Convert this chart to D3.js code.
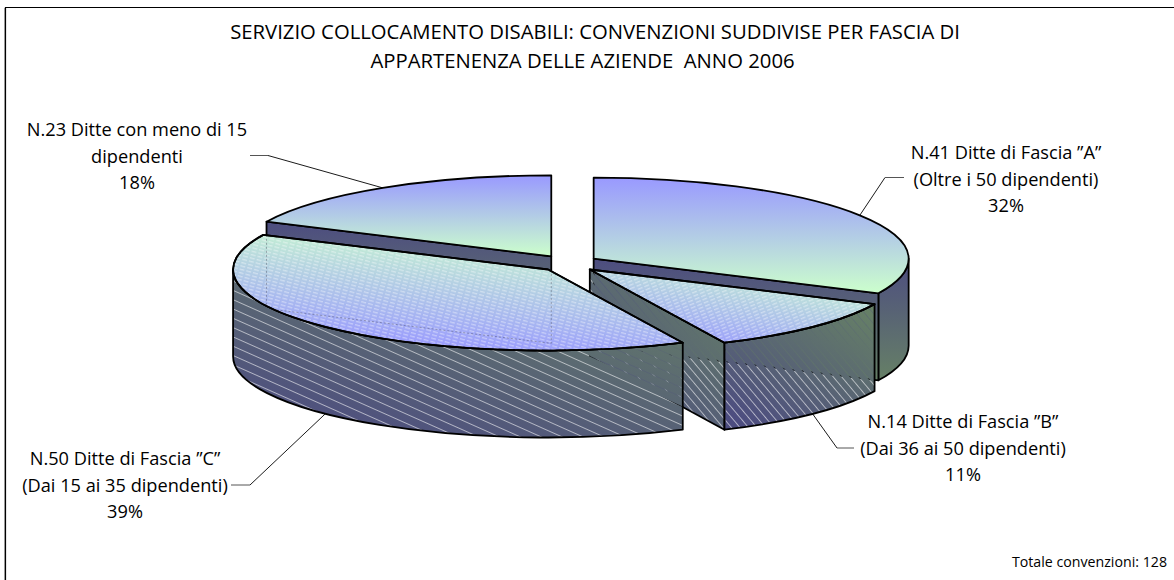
<!DOCTYPE html>
<html><head><meta charset="utf-8">
<style>
html,body{margin:0;padding:0;background:#fff;overflow:hidden}
svg{display:block}
text{font-family:"Open Sans",sans-serif;fill:#000;white-space:pre}
</style>
<script src="https://cdn.jsdelivr.net/npm/d3@7/dist/d3.min.js"></script>
</head><body>
<svg id="c" width="1174" height="580"></svg>
<script>
const categories = ["Fascia A","Fascia B","Fascia C","Meno di 15"];
const values = [41,14,50,23];
const labelLines = [
 ['N.41 Ditte di Fascia ”A”','(Oltre i 50 dipendenti)','32%'],
 ['N.14 Ditte di Fascia ”B”','(Dai 36 ai 50 dipendenti)','11%'],
 ['N.50 Ditte di Fascia ”C”','(Dai 15 ai 35 dipendenti)','39%'],
 ['N.23 Ditte con meno di 15','dipendenti','18%']
];
const titleLines = ['SERVIZIO COLLOCAMENTO DISABILI: CONVENZIONI SUDDIVISE PER FASCIA DI','APPARTENENZA DELLE AZIENDE  ANNO 2006'];
const totalNote = 'Totale convenzioni: 128';

// layout
const cx=570, cy=263.5, rx=315, ry=81, depth=87;
const explodeX=[28,28,31,35], explodeY=[9,8.5,8.5,8.5];
const labelPos=[{x:1006,y:159},{x:963,y:428},{x:125,y:465},{x:137,y:136}];
const leaderElbow=[{x:885,y:177.5},{x:837,y:448},{x:250,y:485},{x:268,y:155.5}];
const leaderEnd=[{x:904,y:177.5},{x:854,y:448},{x:231,y:485},{x:250,y:155.5}];
const topStops=['#9999FF','#CCFFCC'], sideStops=['#4D4D80','#668066'];

const svg=d3.select('#c');
const defs=svg.append('defs');
function grad(id,x1,y1,x2,y2,c0,c1){
  const g=defs.append('linearGradient').attr('id',id).attr('x1',x1).attr('y1',y1).attr('x2',x2).attr('y2',y2);
  g.append('stop').attr('offset',0).attr('stop-color',c0);
  g.append('stop').attr('offset',1).attr('stop-color',c1);
}
grad('topA',0,0,0,1,topStops[0],topStops[1]);
grad('sideA',0,0,0,1,sideStops[0],sideStops[1]);
grad('topR',.75,0,.45,1,topStops[1],topStops[0]);
grad('sideR',.9,0,.2,1,sideStops[1],sideStops[0]);
grad('topB',.9,0,.25,1,topStops[1],topStops[0]);

function dashPattern(id,size,w,rot,dash){
  const p=defs.append('pattern').attr('id',id).attr('patternUnits','userSpaceOnUse')
    .attr('width',dash[0]+dash[1]).attr('height',size).attr('patternTransform',`rotate(${rot})`);
  p.append('rect').attr('width',dash[0]).attr('height',w).attr('fill','#fff');
}
dashPattern('denseC',3.4,1.3,15,[5,2]);
dashPattern('denseB',3.4,1.3,-22,[5,2]);
// mask whose holes are thin diagonal lines
function holeMask(id,size,w,rot){
  const p=defs.append('pattern').attr('id',id+'P').attr('patternUnits','userSpaceOnUse')
    .attr('width',20).attr('height',size).attr('patternTransform',`rotate(${rot})`);
  p.append('rect').attr('width',20).attr('height',size).attr('fill','#fff');
  p.append('rect').attr('width',20).attr('height',w).attr('fill','#555');
  const m=defs.append('mask').attr('id',id).attr('maskUnits','userSpaceOnUse')
    .attr('x',0).attr('y',0).attr('width',1174).attr('height',580);
  m.append('rect').attr('width',1174).attr('height',580).attr('fill',`url(#${id}P)`);
}
holeMask('maskC',8.5,.8,24);
holeMask('maskB',6.5,.8,50);

const pie=d3.pie().sort(null).startAngle(0).endAngle(2*Math.PI);
const arcs=pie(values);
const slices=arcs.map((a,i)=>{
  const mid=(a.startAngle+a.endAngle)/2;
  return {a0:a.startAngle,a1:a.endAngle,mid,i,
    ox:cx+Math.sin(mid)*explodeX[i], oy:cy-Math.cos(mid)*explodeY[i]};
});
const pt=(s,t,dy=0)=>[s.ox+rx*Math.sin(t), s.oy-ry*Math.cos(t)+dy];
const P=p=>p[0].toFixed(2)+' '+p[1].toFixed(2);
function topPath(s){
  const large=(s.a1-s.a0)>Math.PI?1:0;
  return `M${s.ox} ${s.oy}L${P(pt(s,s.a0))}A${rx} ${ry} 0 ${large} 1 ${P(pt(s,s.a1))}Z`;
}
function sidePath(s){
  const a0=Math.max(s.a0,Math.PI/2), a1=Math.min(s.a1,3*Math.PI/2);
  if(a1<=a0) return null;
  const large=(a1-a0)>Math.PI?1:0;
  return `M${P(pt(s,a0))}A${rx} ${ry} 0 ${large} 1 ${P(pt(s,a1))}L${P(pt(s,a1,depth))}A${rx} ${ry} 0 ${large} 0 ${P(pt(s,a0,depth))}Z`;
}
function facePath(s,t){
  const e=pt(s,t);
  return `M${s.ox} ${s.oy}L${P(e)}L${e[0]} ${e[1]+depth}L${s.ox} ${s.oy+depth}Z`;
}
const SW=1.8;
function draw(sel,d,fill,m){
  const p=sel.append('path').attr('d',d).attr('fill',fill);
  if(m){ p.attr('mask',`url(#${m})`);
    sel.append('path').attr('d',d).attr('fill','none').attr('stroke','#000').attr('stroke-width',SW).attr('stroke-linejoin','round');
  } else p.attr('stroke','#000').attr('stroke-width',SW).attr('stroke-linejoin','round');
}

// frame: open on the right and at the bottom
svg.append('path').attr('d','M5.5 580V7.5H1174').attr('fill','none').attr('stroke','#000').attr('stroke-width',1.2);
svg.append('line').attr('x1',4.5).attr('x2',4.5).attr('y1',8).attr('y2',580).attr('stroke','#999').attr('stroke-width',1);

const [A,B,C,D]=slices;
const g=svg.append('g');
draw(g,sidePath(A),'url(#sideA)');
draw(g,facePath(A,A.a1),'url(#sideA)');
draw(g,topPath(A),'url(#topA)');
draw(g,facePath(D,D.a0),'url(#sideA)');
draw(g,topPath(D),'url(#topA)');

draw(g,facePath(B,B.a1),'url(#sideR)','maskB');
draw(g,sidePath(B),'url(#sideR)','maskB');
draw(g,topPath(B),'url(#topB)');
draw(g,sidePath(C),'url(#sideR)','maskC');
draw(g,topPath(C),'url(#topR)');

[[B,'denseB'],[C,'denseC']].forEach(([s,pat])=>{
  defs.append('clipPath').attr('id','clip'+s.i).append('path').attr('d',topPath(s));
  g.append('rect').attr('width',1174).attr('height',580).attr('fill',`url(#${pat})`).attr('opacity',.38).attr('clip-path',`url(#clip${s.i})`);
});
// outline of the slice behind, seen through the hatch of C
const see=g.append('g').attr('clip-path','url(#clip2)');
see.append('path').attr('d',facePath(D,D.a0)).attr('fill','none').attr('stroke','#445')
  .attr('stroke-width',1).attr('stroke-dasharray','2 2').attr('opacity',.4);
g.append('path').attr('d',topPath(C)).attr('fill','none').attr('stroke','#000').attr('stroke-width',SW).attr('stroke-linejoin','round');
g.append('path').attr('d',topPath(B)).attr('fill','none').attr('stroke','#000').attr('stroke-width',SW).attr('stroke-linejoin','round');

// leader lines, anchored at each slice's mid angle
slices.forEach((s,i)=>{
  const front=Math.cos(s.mid)<0;
  const anchor=pt(s,s.mid,front?depth:0);
  svg.append('path').attr('d',`M${P(anchor)}L${leaderElbow[i].x} ${leaderElbow[i].y}`).attr('fill','none').attr('stroke','#000').attr('stroke-width',.9);
  svg.append('path').attr('d',`M${leaderElbow[i].x} ${leaderElbow[i].y}L${leaderEnd[i].x} ${leaderEnd[i].y}`).attr('fill','none').attr('stroke','#555').attr('stroke-width',1);
});

// text
const fs=18.2;
labelLines.forEach((ls,i)=>{
  ls.forEach((t,j)=>svg.append('text').attr('x',labelPos[i].x).attr('y',labelPos[i].y+j*26.5)
    .attr('text-anchor','middle').attr('font-size',fs).text(t));
});
titleLines.forEach((t,j)=>svg.append('text').attr('x',j?582.5:595).attr('y',39+j*29)
  .attr('text-anchor','middle').attr('font-size',20.3).text(t));
svg.append('text').attr('x',1167).attr('y',567).attr('text-anchor','end').attr('font-size',14.2).text(totalNote);
</script>
</body></html>
